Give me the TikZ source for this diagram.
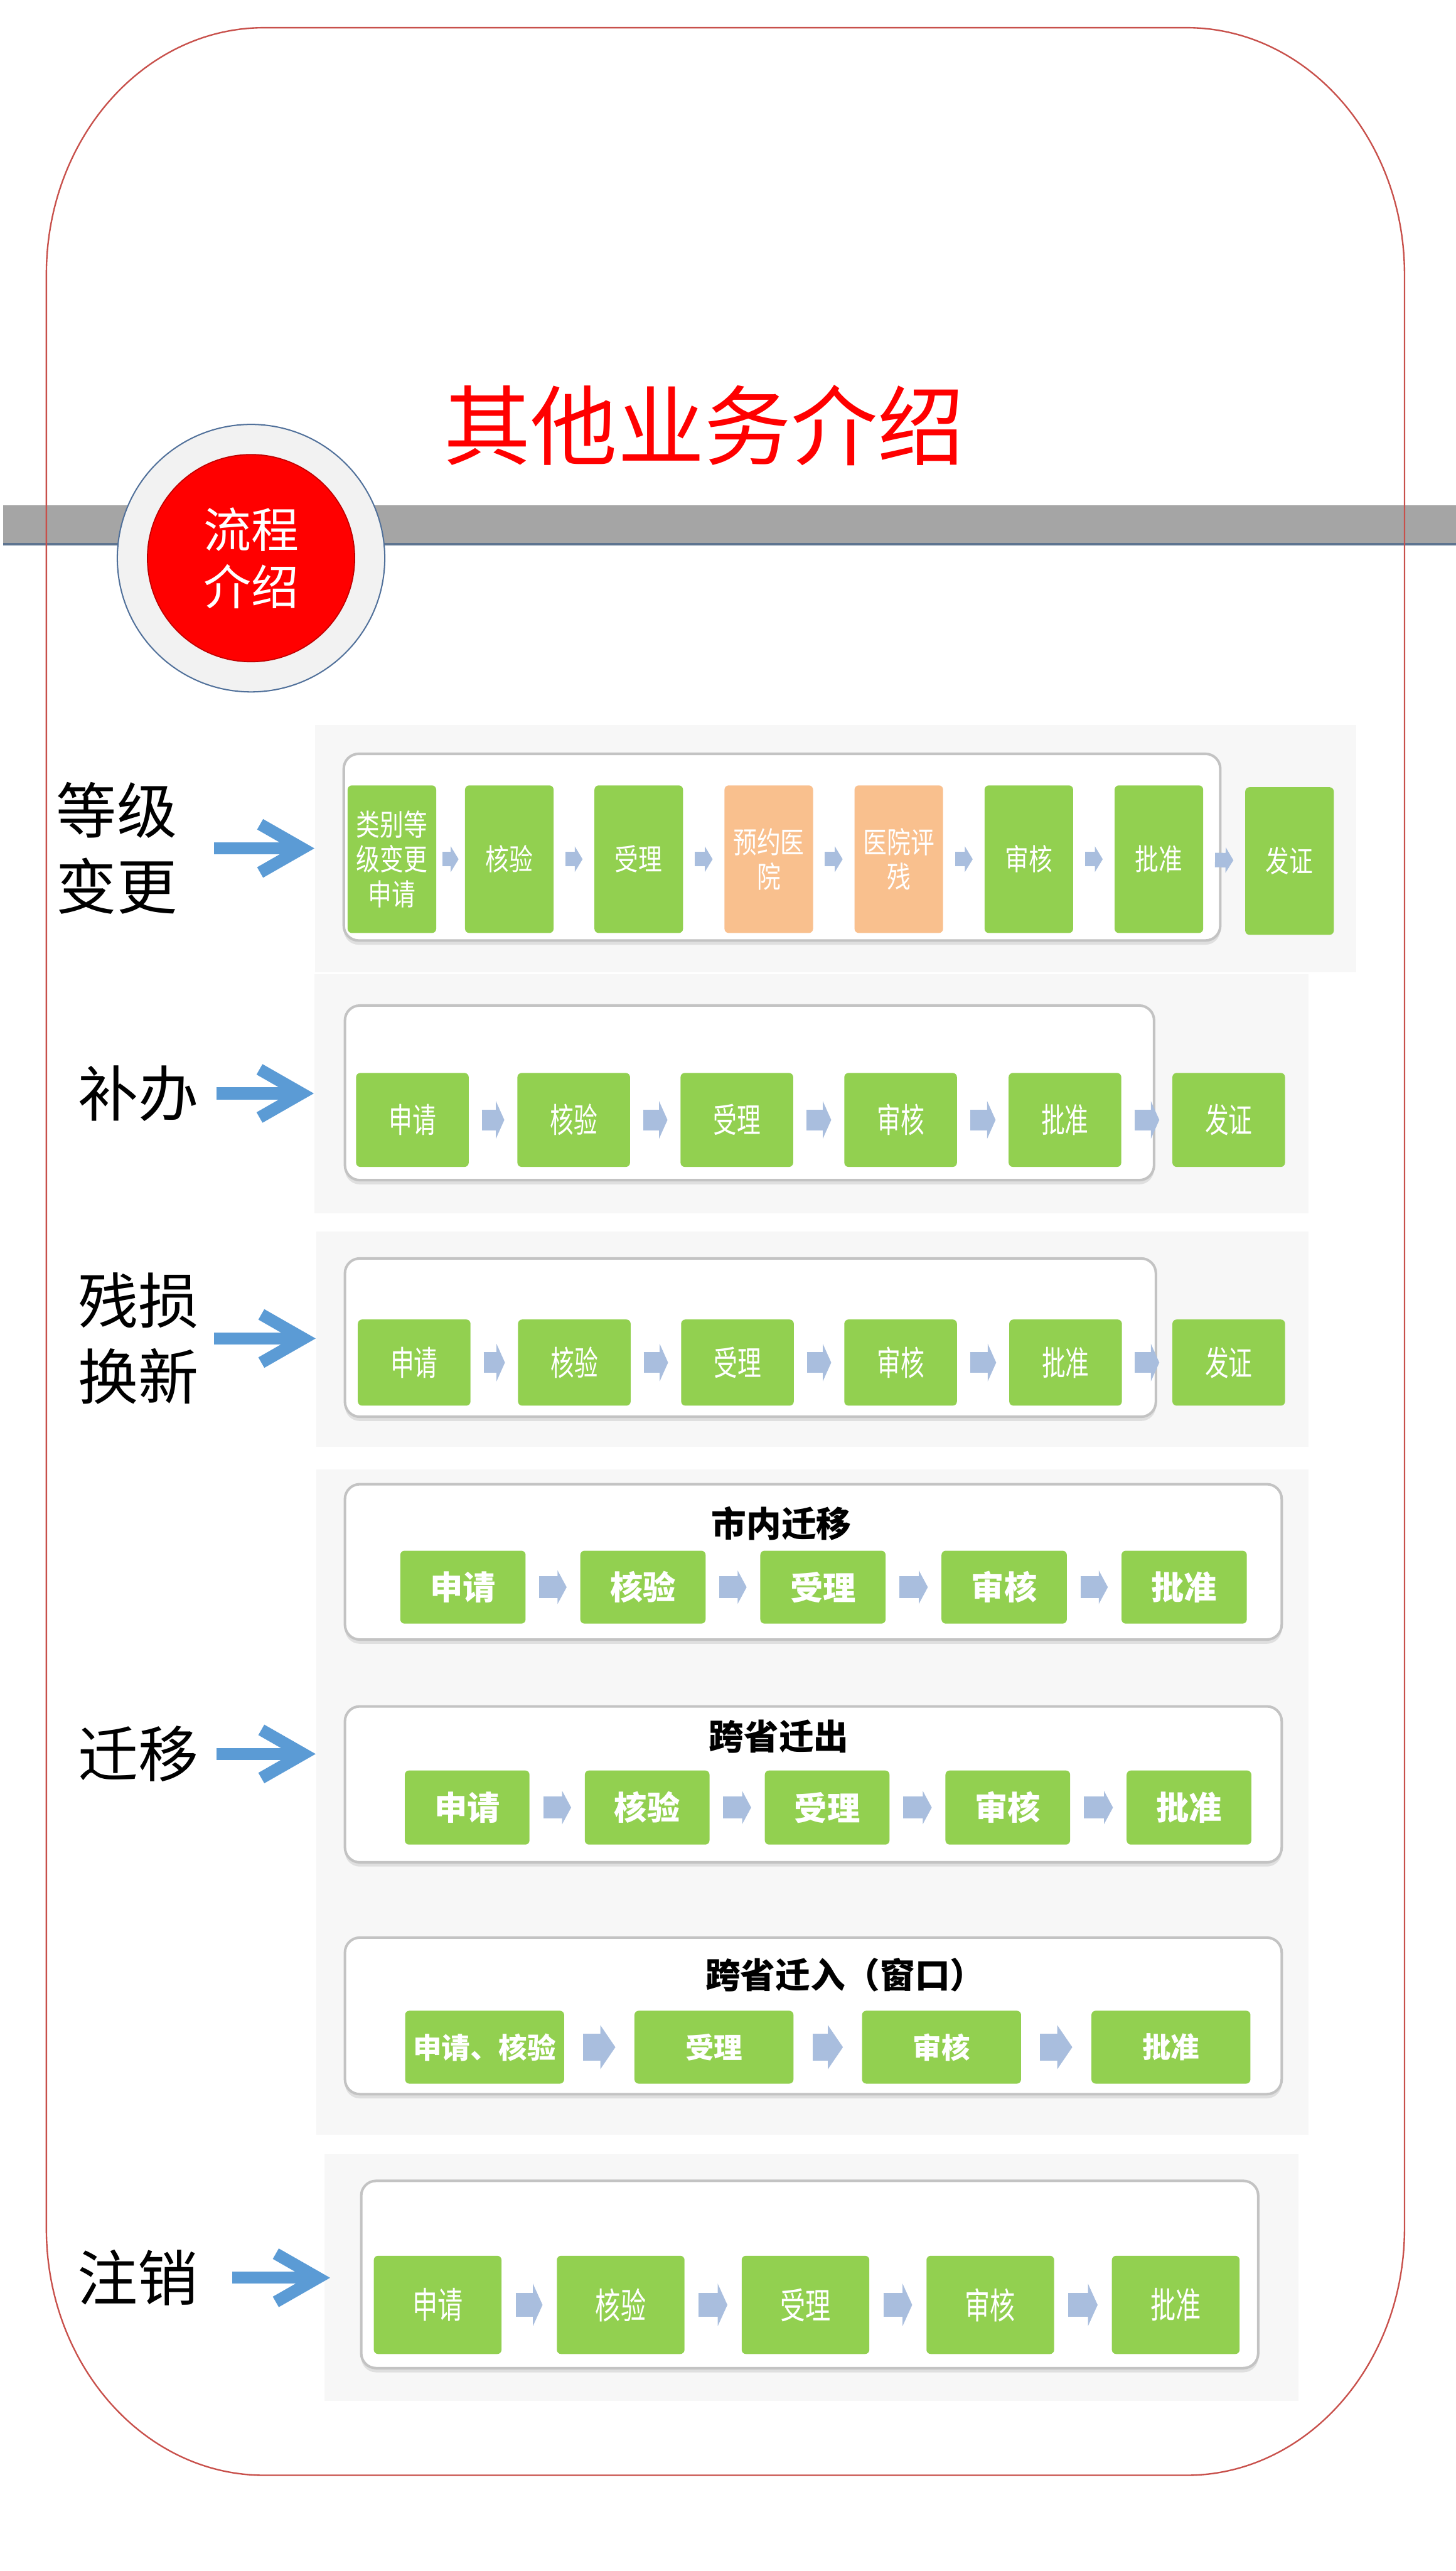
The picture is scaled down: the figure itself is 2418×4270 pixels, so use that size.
\documentclass[tikz,border=0pt]{standalone}
\usepackage{fontspec}
\setmainfont{Noto Sans CJK SC}
\newfontfamily\stepfont{Noto Sans CJK SC}[FakeStretch=0.8]
\newfontfamily\narrowfont{Noto Sans CJK SC}[FakeStretch=0.7]
\usepackage{tikz}
\usetikzlibrary{arrows.meta, positioning, fit, shadows}
\definecolor{framered}{HTML}{C8504B}
\definecolor{bargray}{HTML}{A5A5A5}
\definecolor{barline}{HTML}{5E7490}
\definecolor{ringgray}{HTML}{F2F2F2}
\definecolor{ringline}{HTML}{50709A}
\definecolor{badgered}{HTML}{FF0000}
\definecolor{paper}{HTML}{F7F7F7}
\definecolor{groupline}{HTML}{C3C3C3}
\definecolor{stepgreen}{HTML}{92D050}
\definecolor{steporange}{HTML}{F9C08E}
\definecolor{flowblue}{HTML}{A9BEDE}
\definecolor{pointblue}{HTML}{5B9BD5}

\begin{document}
\begin{tikzpicture}[x=0.01cm, y=-0.01cm,
  panel/.style={fill=paper, inner sep=0pt},
  flowgroup/.style={draw=groupline, line width=1.2pt, fill=white, rounded corners=7pt, inner sep=0pt,
    drop shadow={shadow xshift=0pt, shadow yshift=-2pt, opacity=0.2}},
  stepbox/.style={fill=stepgreen, text=white, rounded corners=2pt, inner sep=0pt, align=center},
  sidetext/.style={inner sep=0pt, align=left, font=\fontsize{28.5}{36}\selectfont},
  heading/.style={inner sep=0pt, font=\bfseries\fontsize{16.5}{20}\selectfont},
  leadarrow/.style={draw=pointblue, line width=0.2cm, -{Straight Barb[length=0.7cm, width=0.8cm]}},
  flowarr/.style n args={4}{draw=flowblue, line width=#1, -{Triangle[length=#2, width=#3]},
    shorten <=#4, shorten >=#4}]
  \useasboundingbox (0,0) rectangle (2418,4270);
  \fill[white] (0,0) rectangle (2418,4270);

  % header bar and page frame
  \fill[bargray] (5,839) rectangle (2418,904);
  \draw[barline, line width=1pt] (5,904) -- (2418,904);
  \draw[framered, line width=0.7pt] (77,456) .. controls (77,230) and (239,46) .. (439,46)
    -- (1971,46) .. controls (2171,46) and (2333,230) .. (2333,456)
    -- (2333,3701) .. controls (2333,3927) and (2171,4111) .. (1971,4111)
    -- (439,4111) .. controls (239,4111) and (77,3927) .. (77,3701) -- cycle;

  \node[circle, fill=ringgray, draw=ringline, line width=0.6pt, minimum size=4.44cm] (ring) at (417,927) {};
  \node[circle, fill=badgered, draw=badgered!75!black, line width=0.5pt, minimum size=3.44cm,
    text=white, align=center, font=\fontsize{22.5}{27}\selectfont] (badge) at (417,927) {流程\\介绍};
  \node[text=badgered, font=\fontsize{41}{48}\selectfont] (title) at (1170,706) {其他业务介绍};

  % 等级变更
  \node[panel, fit={(523,1204) (2253,1615)}] (bg1) {};
  \node[flowgroup, fit={(571,1252) (2027,1562)}] (grp1) {};
  \begin{scope}[every node/.append style={minimum width=1.47cm, minimum height=2.45cm,
      font=\stepfont\fontsize{14}{16.5}\selectfont}]
    \node[stepbox] (a1) at (651,1427) {类别等\\级变更\\申请};
    \node[stepbox] (a2) at (846,1427) {核验};
    \node[stepbox] (a3) at (1061,1427) {受理};
    \node[stepbox, fill=steporange] (a4) at (1277,1427) {预约医\\院};
    \node[stepbox, fill=steporange] (a5) at (1493,1427) {医院评\\残};
    \node[stepbox] (a6) at (1709,1427) {审核};
    \node[stepbox] (a7) at (1925,1427) {批准};
    \node[stepbox] (a8) at (2142,1430) {发证};
  \end{scope}
  \draw[flowarr={0.24cm}{0.13cm}{0.42cm}{0.1cm}] (a1) -- (a2);
  \foreach \i [count=\j from 3] in {2,...,7}
    \draw[flowarr={0.24cm}{0.13cm}{0.42cm}{0.19cm}] (a\i) -- (a\j);

  % 补办
  \node[panel, fit={(522,1618) (2174,2015)}] (bg2) {};
  \node[flowgroup, fit={(573,1670) (1917,1960)}] (grp2) {};
  \foreach \x/\t [count=\i] in {685/申请, 953/核验, 1224/受理, 1496/审核, 1769/批准, 2041/发证}
    \node[stepbox, minimum width=1.87cm, minimum height=1.56cm,
      font=\narrowfont\fontsize{16}{18}\selectfont] (b\i) at (\x,1860) {\t};
  \foreach \i [count=\j from 2] in {1,...,5}
    \draw[flowarr={0.34cm}{0.14cm}{0.62cm}{0.21cm}] (b\i) -- (b\j);

  % 残损换新
  \node[panel, fit={(525,2045) (2174,2403)}] (bg3) {};
  \node[flowgroup, fit={(573,2090) (1920,2353)}] (grp3) {};
  \foreach \x/\t [count=\i] in {688/申请, 954/核验, 1225/受理, 1496/审核, 1770/批准, 2041/发证}
    \node[stepbox, minimum width=1.87cm, minimum height=1.43cm,
      font=\narrowfont\fontsize{16}{18}\selectfont] (c\i) at (\x,2263) {\t};
  \foreach \i [count=\j from 2] in {1,...,5}
    \draw[flowarr={0.34cm}{0.14cm}{0.62cm}{0.21cm}] (c\i) -- (c\j);

  % 迁移
  \node[panel, fit={(525,2440) (2174,3545)}] (bg4) {};
  \node[flowgroup, fit={(573,2465) (2129,2723)}] (grpA) {};
  \node[heading] (hA) at (1298,2530) {市内迁移};
  \foreach \x/\t [count=\i] in {769/申请, 1068/核验, 1367/受理, 1668/审核, 1967/批准}
    \node[stepbox, minimum width=2.08cm, minimum height=1.21cm,
      font=\bfseries\fontsize{15.5}{18}\selectfont] (m\i) at (\x,2636) {\t};
  \foreach \i [count=\j from 2] in {1,...,4}
    \draw[flowarr={0.37cm}{0.15cm}{0.55cm}{0.22cm}] (m\i) -- (m\j);

  \node[flowgroup, fit={(573,2834) (2129,3093)}] (grpB) {};
  \node[heading] (hB) at (1294,2884) {跨省迁出};
  \foreach \x/\t [count=\i] in {776/申请, 1075/核验, 1374/受理, 1674/审核, 1975/批准}
    \node[stepbox, minimum width=2.07cm, minimum height=1.23cm,
      font=\bfseries\fontsize{15.5}{18}\selectfont] (n\i) at (\x,3002) {\t};
  \foreach \i [count=\j from 2] in {1,...,4}
    \draw[flowarr={0.37cm}{0.15cm}{0.55cm}{0.22cm}] (n\i) -- (n\j);

  \node[flowgroup, fit={(573,3218) (2129,3478)}] (grpC) {};
  \node[heading] (hC) at (1404,3280) {跨省迁入（窗口）};
  \foreach \x/\t [count=\i] in {805/申请、核验, 1186/受理, 1564/审核, 1945/批准}
    \node[stepbox, minimum width=2.64cm, minimum height=1.21cm,
      font=\bfseries\fontsize{13.5}{16}\selectfont] (w\i) at (\x,3400) {\t};
  \foreach \i [count=\j from 2] in {1,...,3}
    \draw[flowarr={0.45cm}{0.25cm}{0.72cm}{0.31cm}] (w\i) -- (w\j);

  % 注销
  \node[panel, fit={(539,3578) (2157,3987)}] (bg5) {};
  \node[flowgroup, fit={(600,3622) (2090,3933)}] (grp5) {};
  \foreach \x/\t [count=\i] in {727/申请, 1031/核验, 1338/受理, 1645/审核, 1953/批准}
    \node[stepbox, minimum width=2.12cm, minimum height=1.63cm,
      font=\narrowfont\fontsize{17}{19}\selectfont] (z\i) at (\x,3828) {\t};
  \foreach \i [count=\j from 2] in {1,...,4}
    \draw[flowarr={0.4cm}{0.16cm}{0.7cm}{0.23cm}] (z\i) -- (z\j);

  % business names on the left
  \node[sidetext] (lab1) at (194,1409) {等级\\变更};
  \node[sidetext] (lab2) at (230,1816) {补办};
  \node[sidetext] (lab3) at (230,2223) {残损\\换新};
  \node[sidetext] (lab4) at (230,2913) {迁移};
  \node[sidetext] (lab5) at (229,3783) {注销};
  \draw[leadarrow, shorten <=0.61cm] (lab1.east) -- (lab1.east -| bg1.west);
  \draw[leadarrow, shorten <=0.29cm] (lab2.east) -- (lab2.east -| bg2.west);
  \draw[leadarrow, shorten <=0.25cm] (lab3.east) -- (lab3.east -| bg3.west);
  \draw[leadarrow, shorten <=0.29cm] (lab4.east) -- (lab4.east -| bg4.west);
  \draw[leadarrow, shorten <=0.56cm, shorten >=-0.1cm] (lab5.east) -- (lab5.east -| bg5.west);
\end{tikzpicture}
\end{document}
